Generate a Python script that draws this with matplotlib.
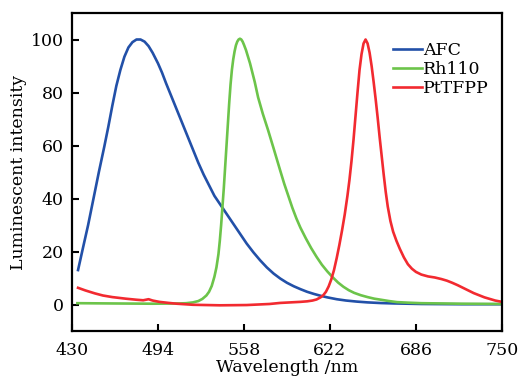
import matplotlib
matplotlib.use("Agg")
import matplotlib.pyplot as plt

# ---- data ----
afc_x = [434.5, 438, 442, 446, 450, 454, 457, 460, 463, 466, 469, 472, 475, 478, 481, 484,
         487, 490, 494, 497, 500, 504, 508, 512, 516, 520, 524, 528, 532, 536, 540, 544,
         548, 552, 556, 560, 565, 570, 575, 580, 585, 590, 595, 600, 605, 610, 615, 620,
         627, 634, 642, 650, 660, 670, 690, 720, 750]
afc_y = [13, 21, 30, 40, 50, 59.5, 67, 75, 82.5, 88.5, 93.5, 97, 99, 100, 100, 99.2,
         97.5, 95, 91, 87.5, 83.5, 78.5, 73.5, 68.5, 63.5, 58.5, 53.5, 49, 45, 41, 38, 35,
         32, 29, 26, 23, 19.7, 16.7, 14, 11.7, 9.8, 8.2, 6.9, 5.8, 4.8, 4, 3.3, 2.7,
         2, 1.5, 1.1, 0.8, 0.55, 0.4, 0.2, 0.1, 0.1]

rh_x = [434, 460, 490, 510, 515, 520, 524, 527, 530, 532, 534, 536, 537.5, 539, 540, 541,
        542, 543, 544, 545, 546, 547, 548, 549, 550, 551, 552, 553, 554, 555, 556, 557,
        558, 559.5, 561, 562.5, 564, 566, 568.5, 572, 576, 580, 585, 588, 591, 594, 597,
        600, 604, 608, 612, 616, 620, 624, 628, 632, 636, 640, 645, 650,
        655, 660, 666, 672, 680, 690, 720, 750]
rh_y = [0.5, 0.4, 0.3, 0.4, 0.5, 0.8, 1.3, 2.1, 3.4, 4.8, 7, 10.5, 14, 19, 24, 30,
        37, 44, 52, 60, 68, 76, 83, 88.5, 92.5, 95.5, 97.8, 99.2, 100, 100.3, 100, 99.2,
        98, 96, 93.5, 91, 88, 84, 78.2, 72, 65.7, 59, 50.5, 45.5, 41, 36.5, 32.5,
        29, 25, 21.3, 18, 15, 12.5, 10.3, 8.3, 6.7, 5.4, 4.4, 3.5, 2.8,
        2.2, 1.8, 1.3, 0.9, 0.7, 0.5, 0.3, 0.2]

pt_x = [434.5, 440, 447, 453, 460, 470, 478, 483, 487, 490, 495, 502, 508, 520, 540, 560,
        577, 585, 600, 605, 609, 612, 615, 617, 619, 621, 623, 625, 627, 629, 631, 633,
        635, 636.5, 638, 639.5, 641, 642.5, 644, 645.5, 647, 648.5, 650, 651.5, 653,
        654.5, 656, 657.5, 659, 660.5, 662, 663.5, 665, 667, 669, 671.5, 674, 677, 680,
        683, 686, 690, 695, 700, 705, 709, 713, 717, 721, 725, 729, 733, 737, 741, 745,
        750]
pt_y = [6.3, 5.3, 4.2, 3.4, 2.8, 2.2, 1.8, 1.6, 2.0, 1.5, 1.0, 0.6, 0.3, -0.1, -0.3, -0.2,
        0.2, 0.6, 1.0, 1.2, 1.5, 1.9, 2.7, 3.5, 4.8, 6.8, 9.5, 13, 17.5, 22.5, 28, 34,
        41, 47, 54, 62, 71, 80, 88.5, 94.5, 98.5, 100, 98.5, 95, 90,
        84, 77.5, 70.5, 63, 56, 49, 42.5, 37, 31.5, 27.5, 24, 21, 17.8, 15.2,
        13.5, 12.3, 11.3, 10.6, 10.2, 9.6, 9, 8.2, 7.3, 6.3, 5.3, 4.3, 3.5, 2.7, 2.1, 1.5,
        1.0]

x_ticks = [430, 494, 558, 622, 686, 750]
y_ticks = [0, 20, 40, 60, 80, 100]

plt.rcParams['font.family'] = ['DejaVu Serif']

fig = plt.figure(figsize=(5.18, 3.78), dpi=100)
ax = fig.add_axes([0.139, 0.1243, 0.830, 0.8413])

lw = 1.9
ax.plot(afc_x, afc_y, color='#2250A8', lw=lw, label='AFC')
ax.plot(rh_x, rh_y, color='#6CC44A', lw=lw, label='Rh110')
ax.plot(pt_x, pt_y, color='#F22A30', lw=lw, label='PtTFPP')

ax.set_xlim(430, 750)
ax.set_ylim(-10, 110)
ax.set_xticks(x_ticks)
ax.set_yticks(y_ticks)
ax.tick_params(direction='in', length=5, width=1.5, labelsize=12.5)
ax.tick_params(axis='x', pad=8)
ax.tick_params(axis='y', pad=6)
for s in ax.spines.values():
    s.set_linewidth(1.6)

ax.set_xlabel('Wavelength /nm', fontsize=12.5, labelpad=0)
ax.set_ylabel('Luminescent intensity', fontsize=12.5, labelpad=3)

leg = ax.legend(loc='upper left', bbox_to_anchor=(0.7465, 0.91), frameon=False,
                fontsize=12.5, handlelength=1.7, handletextpad=0.05,
                labelspacing=0.12, borderaxespad=0.0, borderpad=0.0)

fig.savefig('out.png', dpi=100)
